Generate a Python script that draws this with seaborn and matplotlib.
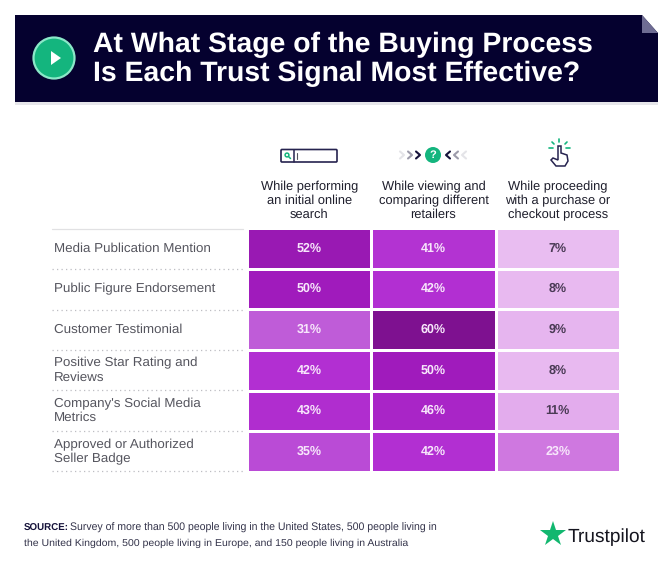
import numpy as np
import pandas as pd
import matplotlib
matplotlib.use("Agg")
import matplotlib.pyplot as plt
from matplotlib.colors import LinearSegmentedColormap
from matplotlib.patches import Circle, Polygon, Rectangle, FancyBboxPatch
import seaborn as sns

signals = ["Media Publication Mention", "Public Figure Endorsement", "Customer Testimonial",
           "Positive Star Rating and\nReviews", "Company's Social Media\nMetrics",
           "Approved or Authorized\nSeller Badge"]
stages = ["While performing\nan initial online\nsearch",
          "While viewing and\ncomparing different\nretailers",
          "While proceeding\nwith a purchase or\ncheckout process"]
search_pct = [52, 50, 31, 42, 43, 35]
compare_pct = [41, 42, 60, 50, 46, 42]
checkout_pct = [7, 8, 9, 8, 11, 23]

title = "At What Stage of the Buying Process\nIs Each Trust Signal Most Effective?"
source_1 = "Survey of more than 500 people living in the United States, 500 people living in"
source_2 = "the United Kingdom, 500 people living in Europe, and 150 people living in Australia"

sns.set_theme(style="white")
plt.rcParams["font.family"] = ["Liberation Sans", "DejaVu Sans"]
plt.rcParams["text.hinting"] = "no_hinting"
plt.rcParams["text.hinting_factor"] = 8

df = pd.DataFrame({"search": search_pct, "compare": compare_pct, "checkout": checkout_pct}, index=signals)
labels = df.map(lambda v: f"{v}%")

W, H = 670, 571
fig = plt.figure(figsize=(W / 100, H / 100), dpi=100)

# heatmap goes where the table is in the picture
ax = fig.add_axes([247 / W, 1 - 472 / H, 373 / W, 244 / H])
cmap = LinearSegmentedColormap.from_list(
    "trust", [(0, "#E9BDF1"), (0.30, "#CF78E0"), (0.45, "#BF5CD8"), (0.66, "#B22FD2"),
              (0.81, "#A01BBC"), (1, "#7E1190")])
sns.heatmap(df, ax=ax, cmap=cmap, vmin=7, vmax=60, cbar=False, annot=labels, fmt="",
            linewidths=0.8, linecolor="white",
            annot_kws={"fontsize": 9, "fontweight": "bold"})
for t, v in zip(ax.texts, df.values.ravel()):
    t.set_color("#4A3A55" if v < 20 else "#F7E6FB")

ax.xaxis.tick_top()
ax.set_xticklabels(stages, rotation=0, fontsize=9.3, color="#1E1E2C", linespacing=1.2)
ax.set_yticklabels(signals, rotation=0, fontsize=9.65, color="#55555E", ha="left", linespacing=1.2)
ax.tick_params(axis="x", length=0, pad=5)
ax.tick_params(axis="y", length=0, pad=139)
ax.set_xlabel("")
ax.set_ylabel("")

# everything around the table, in pixel coordinates
ov = fig.add_axes([0, 0, 1, 1], zorder=5)
ov.set_xlim(0, W)
ov.set_ylim(H, 0)
ov.axis("off")

# banner
ov.add_patch(Rectangle((15, 102), 643, 3, color="#E6E6EA", lw=0))
ov.add_patch(Polygon([(15, 15), (642, 15), (658, 33), (658, 102), (15, 102)], color="#05012F", lw=0))
ov.add_patch(Polygon([(642, 15), (658, 33), (642, 33)], color="#6E6C93", lw=0))
ov.add_patch(Circle((54, 58), 20.5, fc="#14B57E", ec="#8BE8C8", lw=1.6))
ov.add_patch(Polygon([(51, 51), (51, 65), (61, 58)], color="white", lw=0))
ov.text(93, 59.5, title, color="white", fontsize=20.4, fontweight="bold", va="center", ha="left", linespacing=1.13)

# separators next to the row labels
for i in range(7):
    y = 229 + i * 242 / 6
    ov.plot([52, 243], [y, y], color="#BDBDC2", lw=0.9, ls=(0, (1, 2.6)) if i else "-", alpha=1 if i else 0.45)

# search box icon
ov.add_patch(FancyBboxPatch((281, 149.5), 56, 12.5, boxstyle="round,pad=0,rounding_size=1", fc="white", ec="#26234F", lw=1.2))
ov.plot([294, 294], [149.5, 162], color="#26234F", lw=1.1)
ov.add_patch(Circle((287, 155), 1.9, fc="none", ec="#14B57E", lw=1.1))
ov.plot([288.4, 290.5], [156.4, 158.5], color="#14B57E", lw=1.1)
ov.plot([297, 297], [152.5, 159], color="#55555E", lw=0.8)

# compare icon
ov.add_patch(Circle((433, 155), 8, color="#14B57E", lw=0))
ov.text(433, 155.3, "?", color="white", fontsize=8, fontweight="bold", ha="center", va="center")
for x, c in zip([400, 408, 416], ["#E4E4E8", "#9C9BAA", "#15123A"]):
    ov.plot([x, x + 4, x], [151.5, 155, 158.5], color=c, lw=1.5)
for x, c in zip([466, 458, 450], ["#E4E4E8", "#9C9BAA", "#15123A"]):
    ov.plot([x, x - 4, x], [151.5, 155, 158.5], color=c, lw=1.5)

# click icon
hand = Polygon([(558, 146), (561, 146), (561, 153), (567, 155), (568, 161), (565, 166), (556, 166), (551, 160),
                (553, 158), (558, 160)], fc="white", ec="#26234F", lw=1.1)
ov.add_patch(hand)
for x0, y0, x1, y1 in [(549, 148, 553, 148), (566, 148, 570, 148), (552, 142, 554, 144), (567, 142, 565, 144), (559, 139, 559, 142)]:
    ov.plot([x0, x1], [y0, y1], color="#14B57E", lw=1.2)

# footer
ov.text(24, 531, "SOURCE:", fontsize=7.0, fontweight="bold", color="#15123A", va="baseline")
ov.text(70.5, 531, source_1, fontsize=7.6, color="#33334A", va="baseline")
ov.text(24, 546, source_2, fontsize=7.55, color="#33334A", va="baseline")
ov.plot([553], [534], marker="*", ms=19, color="#12B76F", mew=0)
ov.text(568, 537, "Trustpilot", fontsize=13.8, color="#15151F", va="center", ha="left")

fig.savefig("out.png", dpi=100, facecolor="white")
